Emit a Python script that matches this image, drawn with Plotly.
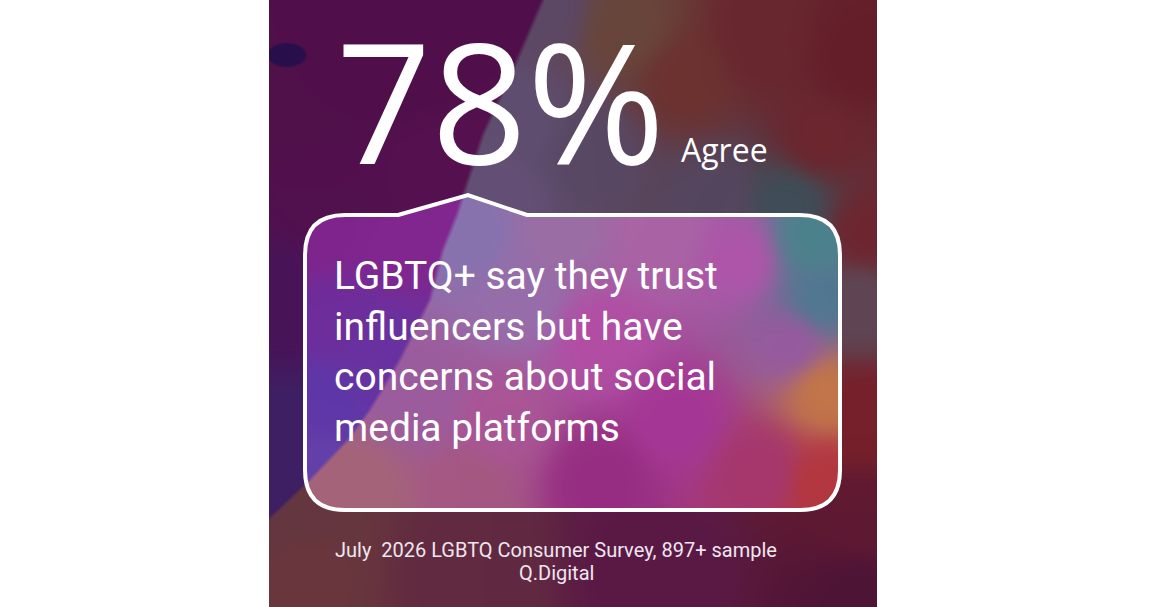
import base64
import struct
import zlib

import numpy as np
import plotly.graph_objects as go

# ---- content ----
stat_value = 78
stat_suffix = "%"
stat_label = "Agree"
message_lines = [
    "LGBTQ+ say they trust",
    "influencers but have",
    "concerns about social",
    "media platforms",
]
source_lines = [
    "July\u00a0 2026 LGBTQ Consumer Survey, 897+ sample",
    "Q.Digital",
]

# ---- canvas / panel geometry (pixels) ----
FIG_W, FIG_H = 1160, 607
PANEL_X0, PANEL_X1 = 269, 877
BUB_X0, BUB_X1, BUB_Y0, BUB_Y1, BUB_R = 305, 840, 215, 510, 40
TAIL = [(398, 215), (468, 195), (527, 215)]

# ---- background paint (x, y, rgb) ----
# edge of the lighter swath that curves from the top down to the lower left
swath_y = [0, 70, 135, 175, 215, 250, 300, 360, 410, 440, 480, 520, 607]
swath_x = [543, 513, 483, 470, 457, 443, 430, 400, 370, 348, 310, 268, 200]

outer_dark = [
    (300, 100, (80, 16, 74)), (420, 60, (80, 15, 75)), (450, 180, (86, 18, 80)),
    (330, 200, (82, 16, 78)), (285, 300, (72, 20, 88)), (285, 440, (62, 32, 100)),
]
outer_light = [
    (545, 10, (92, 72, 102)), (520, 120, (95, 78, 112)), (495, 195, (100, 80, 118)),
    (590, 150, (88, 72, 100)), (625, 30, (105, 70, 58)), (685, 80, (108, 50, 48)),
    (760, 40, (105, 38, 46)), (860, 60, (100, 30, 42)), (820, 140, (108, 38, 46)),
    (715, 200, (85, 70, 95)), (790, 205, (62, 78, 88)), (868, 235, (110, 38, 48)),
    (858, 300, (95, 70, 85)), (862, 420, (118, 32, 42)), (862, 520, (95, 25, 50)),
    (860, 595, (78, 20, 55)), (650, 570, (90, 25, 70)), (470, 575, (98, 42, 65)),
    (300, 565, (105, 55, 60)), (285, 520, (100, 55, 65)),
]
inner_dark = [
    (320, 235, (128, 36, 140)), (400, 240, (130, 38, 142)), (330, 320, (110, 45, 155)),
    (320, 400, (95, 55, 168)), (315, 470, (100, 65, 170)), (375, 345, (105, 50, 160)),
]
inner_light = [
    (470, 235, (135, 115, 175)), (520, 300, (150, 110, 170)), (560, 230, (155, 110, 165)),
    (660, 235, (170, 100, 165)), (740, 260, (175, 85, 170)), (812, 240, (75, 130, 140)),
    (822, 300, (80, 120, 145)), (790, 345, (150, 90, 160)), (826, 392, (195, 118, 72)),
    (826, 482, (180, 55, 62)), (760, 470, (165, 55, 110)), (680, 420, (165, 55, 150)),
    (600, 340, (178, 78, 165)), (600, 480, (150, 45, 130)), (500, 420, (170, 85, 150)),
    (470, 490, (165, 88, 130)), (360, 492, (165, 100, 120)), (420, 400, (155, 92, 158)),
]
navy_spot = (287, 55, 21, 13, (40, 15, 75))


def blend(points, X, Y):
    num = np.zeros(X.shape + (3,))
    den = np.zeros(X.shape)
    for px, py, c in points:
        w = 1.0 / ((X - px) ** 2 + (Y - py) ** 2 + 400.0) ** 2
        num += w[..., None] * np.array(c, dtype=float)
        den += w
    return num / den[..., None]


def mix(a, b, t):
    return a * (1 - t[..., None]) + b * t[..., None]


def png_uri(rgb):
    h, w, _ = rgb.shape
    raw = b"".join(b"\x00" + rgb[r].tobytes() for r in range(h))

    def chunk(tag, data):
        return (struct.pack(">I", len(data)) + tag + data
                + struct.pack(">I", zlib.crc32(tag + data) & 0xFFFFFFFF))

    png = (b"\x89PNG\r\n\x1a\n"
           + chunk(b"IHDR", struct.pack(">IIBBBBB", w, h, 8, 2, 0, 0, 0))
           + chunk(b"IDAT", zlib.compress(raw, 9))
           + chunk(b"IEND", b""))
    return "data:image/png;base64," + base64.b64encode(png).decode()


# background raster
xs = np.arange(PANEL_X0, PANEL_X1) + 0.5
ys = np.arange(FIG_H) + 0.5
X, Y = np.meshgrid(xs, ys)

edge = np.interp(Y, swath_y, swath_x)
t_swath = np.clip((X - edge) / 5 + 0.5, 0, 1)

outer = mix(blend(outer_dark, X, Y), blend(outer_light, X, Y), t_swath)
inner = mix(blend(inner_dark, X, Y), blend(inner_light, X, Y), t_swath)

# rounded rectangle of the speech bubble
cx, cy = (BUB_X0 + BUB_X1) / 2, (BUB_Y0 + BUB_Y1) / 2
hw, hh = (BUB_X1 - BUB_X0) / 2, (BUB_Y1 - BUB_Y0) / 2
qx = np.abs(X - cx) - (hw - BUB_R)
qy = np.abs(Y - cy) - (hh - BUB_R)
sd = np.hypot(np.maximum(qx, 0), np.maximum(qy, 0)) + np.minimum(np.maximum(qx, qy), 0) - BUB_R
in_bubble = np.clip(0.5 - sd, 0, 1)
(ax_, ay_), (px_, py_), (bx_, by_) = TAIL
left_line = ay_ + (py_ - ay_) * (X - ax_) / (px_ - ax_)
right_line = py_ + (by_ - py_) * (X - px_) / (bx_ - px_)
in_tail = (X >= ax_) & (X <= bx_) & (Y >= np.maximum(left_line, right_line)) & (Y <= BUB_Y0 + 2)
in_bubble = np.maximum(in_bubble, in_tail.astype(float))

img = mix(outer, inner, in_bubble)

# small dark leaf near the top-left edge
nx, ny, rx, ry, ncol = navy_spot
nd = np.sqrt(((X - nx) / rx) ** 2 + ((Y - ny) / ry) ** 2)
img = mix(img, np.broadcast_to(np.array(ncol, float), img.shape), np.clip((1 - nd) * 6, 0, 1))

bg_uri = png_uri(np.clip(img, 0, 255).astype(np.uint8))

# ---- figure ----
fig = go.Figure()

bubble_path = (
    f"M {TAIL[0][0]},{TAIL[0][1]} L {TAIL[1][0]},{TAIL[1][1]} L {TAIL[2][0]},{TAIL[2][1]} "
    f"L {BUB_X1 - BUB_R},{BUB_Y0} Q {BUB_X1},{BUB_Y0} {BUB_X1},{BUB_Y0 + BUB_R} "
    f"L {BUB_X1},{BUB_Y1 - BUB_R} Q {BUB_X1},{BUB_Y1} {BUB_X1 - BUB_R},{BUB_Y1} "
    f"L {BUB_X0 + BUB_R},{BUB_Y1} Q {BUB_X0},{BUB_Y1} {BUB_X0},{BUB_Y1 - BUB_R} "
    f"L {BUB_X0},{BUB_Y0 + BUB_R} Q {BUB_X0},{BUB_Y0} {BUB_X0 + BUB_R},{BUB_Y0} Z"
)
fig.add_shape(type="path", path=bubble_path, xref="x", yref="y",
              line=dict(color="white", width=4), fillcolor="rgba(0,0,0,0)")

fig.add_annotation(x=334, y=99, xref="x", yref="y", xanchor="left", yanchor="middle",
                   text=f"{stat_value}{stat_suffix}", showarrow=False,
                   font=dict(family="Open Sans", size=167, color="white", weight=400))
fig.add_annotation(x=679, y=149, xref="x", yref="y", xanchor="left", yanchor="middle",
                   text=stat_label, showarrow=False,
                   font=dict(family="Open Sans", size=32, color="white"))
fig.add_annotation(x=332, y=352, xref="x", yref="y", xanchor="left", yanchor="middle",
                   text="<br>".join(message_lines), align="left", showarrow=False,
                   font=dict(family="Roboto", size=39, color="white"))
for i, line in enumerate(source_lines):
    fig.add_annotation(x=556, y=550 + 23 * i, xref="x", yref="y", xanchor="center",
                       yanchor="middle", text=line, showarrow=False,
                       font=dict(family="Roboto", size=20, color="#efe6ef"))

fig.update_layout(
    width=FIG_W, height=FIG_H,
    margin=dict(l=0, r=0, t=0, b=0),
    paper_bgcolor="white", plot_bgcolor="white",
    showlegend=False,
    xaxis=dict(range=[0, FIG_W], visible=False, fixedrange=True),
    yaxis=dict(range=[FIG_H, 0], visible=False, fixedrange=True),
    images=[dict(source=bg_uri, xref="x", yref="y", x=PANEL_X0, y=0,
                 sizex=PANEL_X1 - PANEL_X0, sizey=FIG_H, xanchor="left", yanchor="top",
                 sizing="stretch", layer="below")],
)

fig.write_html("out.html", config={"displayModeBar": False},
               post_script="document.body.style.margin='0';")
